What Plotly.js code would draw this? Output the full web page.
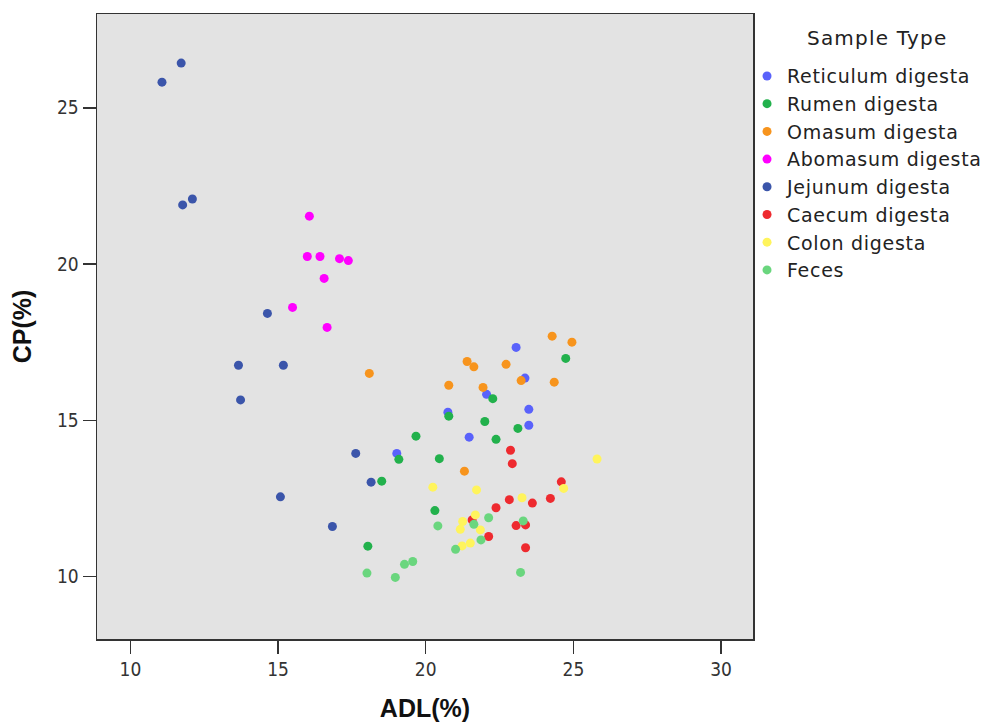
<!DOCTYPE html>
<html>
<head>
<meta charset="utf-8">
<script src="https://cdn.plot.ly/plotly-3.0.1.min.js"></script>
<style>
html,body{margin:0;padding:0;background:#fff;}
#chart{width:999px;height:724px;}
.legendtext{letter-spacing:0.7px;}
.annotation-text{letter-spacing:1.2px;}
</style>
</head>
<body>
<div id="chart"></div>
<script>
// Sample type categories
const categories = ["Reticulum digesta","Rumen digesta","Omasum digesta","Abomasum digesta","Jejunum digesta","Caecum digesta","Colon digesta","Feces"];
const legendTitle = "Sample Type";

// ADL(%) and CP(%) values per sample type
const reticulumADL = [23.06,23.36,22.06,20.75,23.49,23.49,21.47,19.02];
const reticulumCP  = [17.33,16.35,15.83,15.26,15.35,14.84,14.46,13.94];

const rumenADL = [24.74,22.27,20.78,22.00,23.12,19.67,22.38,19.09,20.46,18.51,20.31,18.04];
const rumenCP  = [16.98,15.69,15.13,14.96,14.74,14.49,14.39,13.75,13.77,13.05,12.11,10.97];

const omasumADL = [18.09,24.28,24.95,21.40,21.63,22.72,20.78,21.94,23.23,24.35,21.31];
const omasumCP  = [16.50,17.69,17.50,16.88,16.71,16.79,16.12,16.05,16.27,16.22,13.37];

const abomasumADL = [16.06,15.99,16.42,17.08,17.38,16.56,15.49,16.66];
const abomasumCP  = [21.53,20.24,20.24,20.17,20.11,19.54,18.61,17.97];

const jejunumADL = [11.72,11.07,12.10,11.77,14.64,13.66,13.73,15.18,15.08,17.63,18.15,16.84];
const jejunumCP  = [26.43,25.82,22.08,21.89,18.42,16.76,15.65,16.76,12.55,13.94,13.02,11.60];

const caecumADL = [22.87,22.93,24.59,24.22,23.61,22.83,22.38,23.06,23.38,22.13,23.38,21.57];
const caecumCP  = [14.04,13.61,13.03,12.50,12.35,12.46,12.20,11.63,11.65,11.28,10.92,11.81];

const colonADL = [25.80,20.24,21.72,23.26,24.67,21.68,21.25,21.17,21.85,21.51,21.23];
const colonCP  = [13.76,12.86,12.77,12.52,12.82,11.97,11.76,11.51,11.49,11.07,10.98];

const fecesADL = [22.13,21.63,20.41,23.30,21.87,21.01,23.21,18.01,18.97,19.28,19.56];
const fecesCP  = [11.88,11.67,11.62,11.78,11.17,10.87,10.13,10.11,9.97,10.39,10.48];

const xTicks = [10,15,20,25,30];
const yTicks = [10,15,20,25];

const colors = ["#5a62fb","#22b14c","#f7941d","#ff00ff","#3b55aa","#ee2a2f","#fff45c","#6ad67e"];

const seriesX = [reticulumADL,rumenADL,omasumADL,abomasumADL,jejunumADL,caecumADL,colonADL,fecesADL];
const seriesY = [reticulumCP,rumenCP,omasumCP,abomasumCP,jejunumCP,caecumCP,colonCP,fecesCP];

const traces = categories.map((name,i)=>({
  type:"scatter", mode:"markers", name:name,
  x:seriesX[i], y:seriesY[i],
  marker:{color:colors[i], size:9, line:{width:0}},
  hoverinfo:"x+y+name"
}));

const font = "DejaVu Sans, Liberation Sans, sans-serif";
const tickFont = {family:"DejaVu Sans Condensed, DejaVu Sans, sans-serif", size:19, color:"#333"};
const titleFont = {family:"Liberation Sans, Arial, sans-serif", size:25, color:"#111"};

const layout = {
  width:999, height:724,
  margin:{l:97, r:246, t:14, b:85, pad:0},
  paper_bgcolor:"#ffffff",
  plot_bgcolor:"#e3e3e3",
  showlegend:true,
  font:{family:font, color:"#222", size:16},
  xaxis:{
    range:[8.87,31.08], tickvals:xTicks, ticktext:xTicks.map(String),
    showgrid:false, zeroline:false,
    showline:true, mirror:true, linecolor:"#333", linewidth:1.5,
    ticks:"outside", ticklen:13, tickwidth:1.5, tickcolor:"#333",
    tickfont:tickFont,
    title:{text:"<b>ADL(%)</b>", font:titleFont, standoff:20}
  },
  yaxis:{
    range:[8,28], tickvals:yTicks, ticktext:yTicks.map(String),
    showgrid:false, zeroline:false,
    showline:true, mirror:true, linecolor:"#333", linewidth:1.5,
    ticks:"outside", ticklen:13, tickwidth:1.5, tickcolor:"#333",
    tickfont:tickFont,
    title:{text:"<b>CP(%)</b>", font:titleFont, standoff:18}
  },
  legend:{
    x:0.9909, xanchor:"left", y:0.931, yanchor:"top",
    bgcolor:"rgba(0,0,0,0)", borderwidth:0,
    font:{family:font, size:19, color:"#222"},
    itemwidth:30, tracegroupgap:0
  },
  annotations:[{
    text:legendTitle, xref:"paper", yref:"paper",
    x:1.19, y:0.961, xanchor:"center", yanchor:"middle",
    showarrow:false, font:{family:font, size:20, color:"#222"}
  }]
};

Plotly.newPlot("chart", traces, layout, {staticPlot:true, displayModeBar:false});
</script>
</body>
</html>
